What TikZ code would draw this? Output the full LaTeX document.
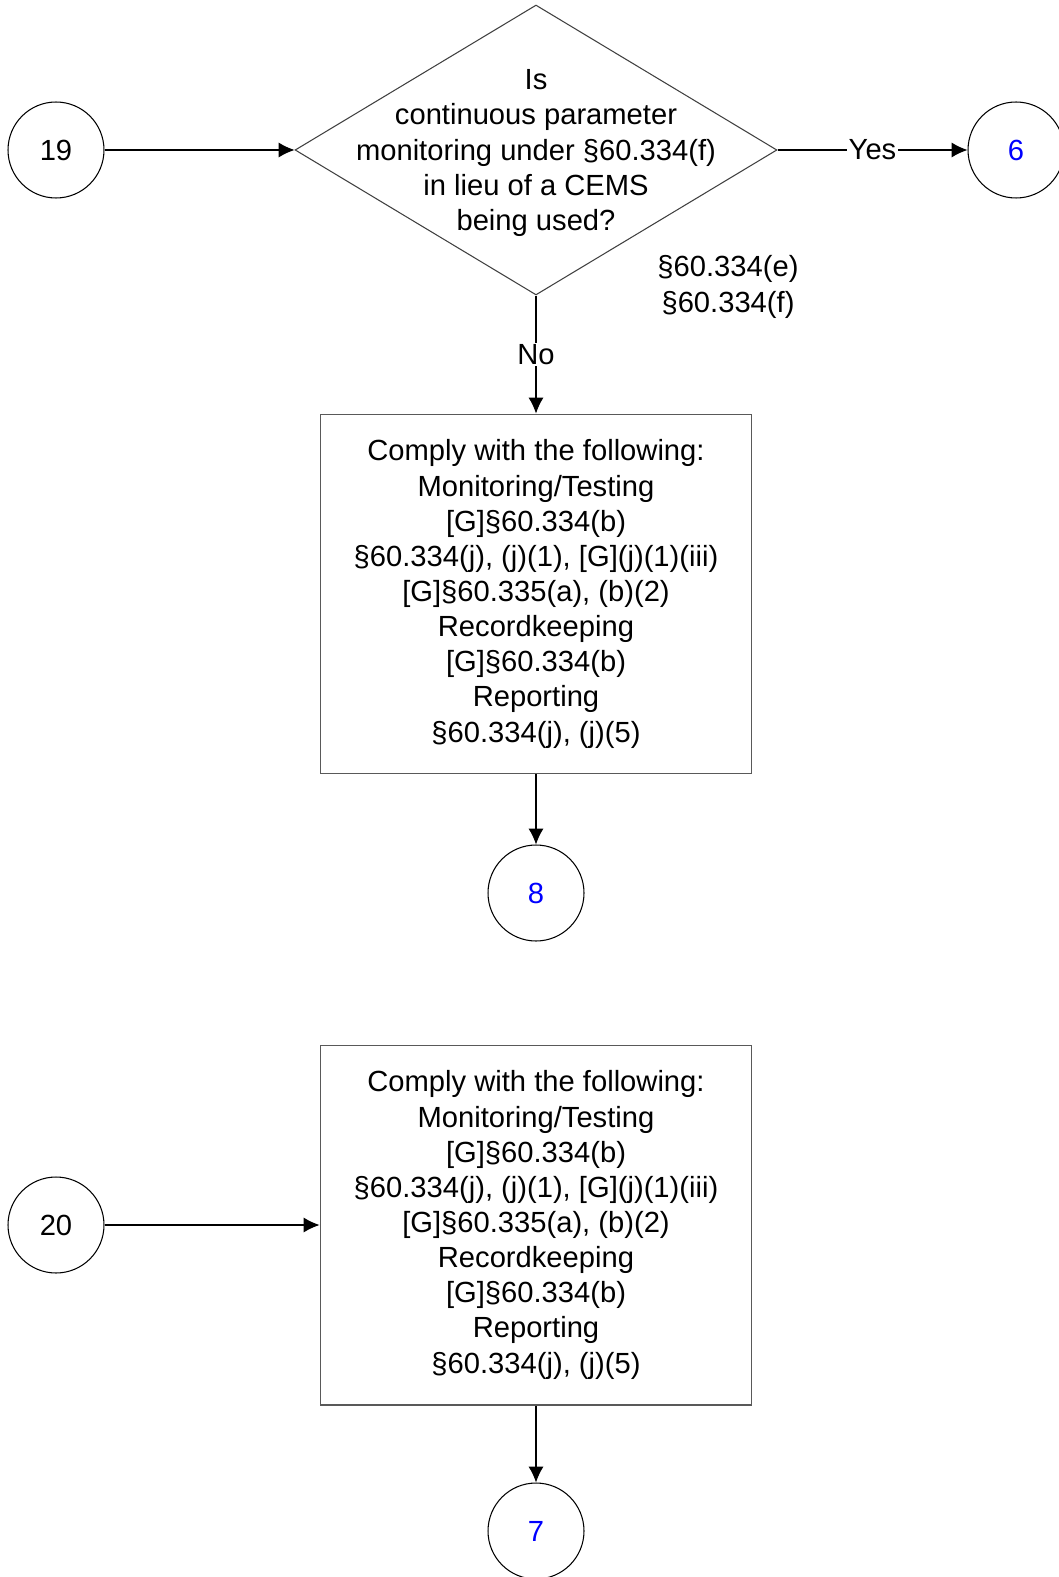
\documentclass[tikz,border=0pt]{standalone}
\usepackage{fontspec}
\setmainfont{Liberation Sans}
\usetikzlibrary{arrows.meta, positioning, shapes.geometric}
\definecolor{linkblue}{RGB}{0,0,255}

\newcommand{\complytext}{Comply with the following:\\Monitoring/Testing\\{[G]}§60.334(b)\\§60.334(j), (j)(1), [G](j)(1)(iii)\\{[G]}§60.335(a), (b)(2)\\Recordkeeping\\{[G]}§60.334(b)\\Reporting\\§60.334(j), (j)(5)}

\begin{document}
\begin{tikzpicture}[
    x=0.02cm, y=-0.02cm,
    every node/.style={font=\fontsize{16.6}{20}\selectfont},
    connector/.style={circle, draw=black, line width=0.6pt, minimum size=1.92cm, inner sep=0pt},
    jump/.style={connector, text=linkblue},
    decision/.style={diamond, draw=black!75, line width=0.6pt, minimum width=9.64cm, minimum height=5.8cm, inner sep=0pt},
    task/.style={rectangle, draw=black!65, line width=0.6pt, minimum width=8.64cm, minimum height=7.2cm, align=center},
    rel/.style={-{Latex[length=9pt,width=8.5pt]}, line width=0.6pt},
    answer/.style={fill=white, inner sep=1pt}
]
\useasboundingbox (0,0) rectangle (1058,1577);

% first part
\node[connector] (c19) at (56,150) {19};
\node[decision] (q19) at (536,150) {};
\node[align=center] (q19text) at (536,153) {Is\\continuous parameter\\monitoring under §60.334(f)\\in lieu of a CEMS\\being used?};
\node[jump] (c6) at (1016,150) {6};
\node[align=center] (cite) at (728,287) {§60.334(e)\\§60.334(f)};
\node[task] (comply1) at (536,594) {\complytext};
\node[jump] (c8) at (536,893) {8};

\draw[rel] (c19) -- (q19);
\draw[rel] (q19) -- node[answer] {Yes} (c6);
\draw[rel] (q19) -- node[answer] {No} (comply1);
\draw[rel] (comply1) -- (c8);

% second part
\node[connector] (c20) at (56,1225) {20};
\node[task] (comply2) at (536,1225) {\complytext};
\node[jump] (c7) at (536,1531) {7};

\draw[rel] (c20) -- (comply2);
\draw[rel] (comply2) -- (c7);

\end{tikzpicture}
\end{document}
